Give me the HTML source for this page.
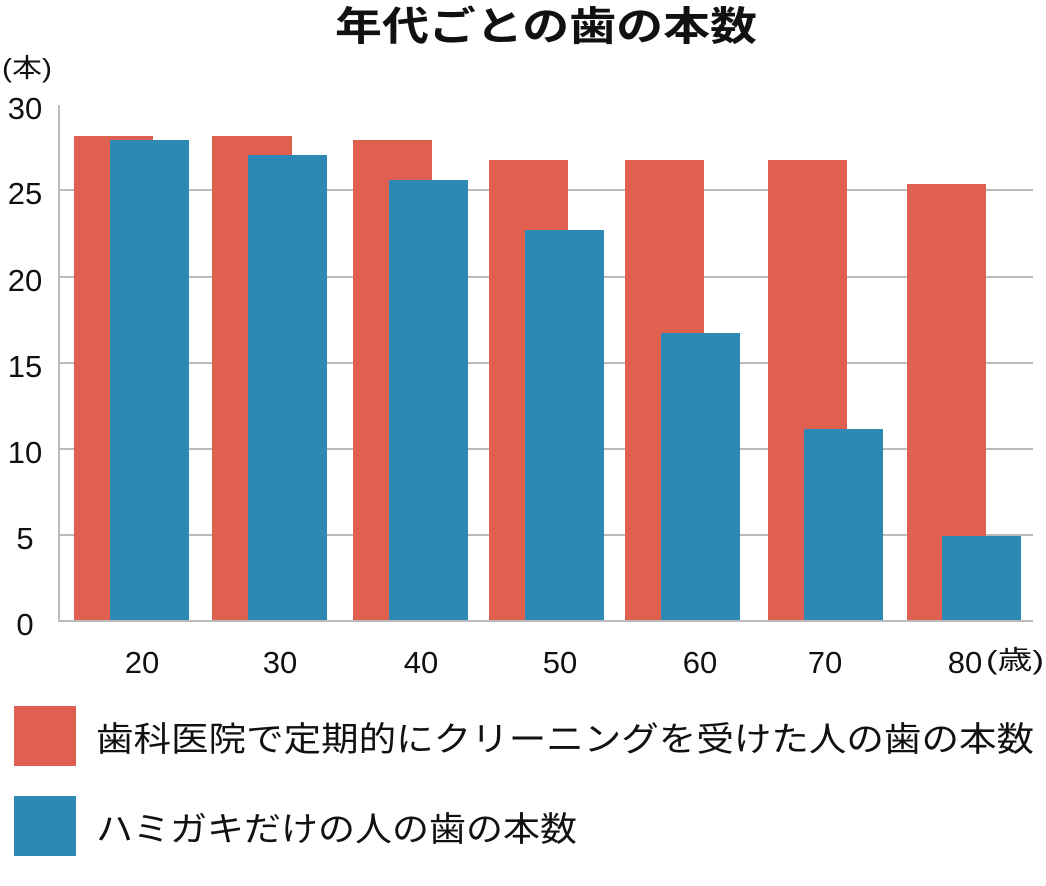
<!DOCTYPE html>
<html><head><meta charset="utf-8"><style>
body{margin:0;background:#fff;}
svg text{font-family:"Liberation Sans","Noto Sans CJK JP",sans-serif;fill:#111;}
</style></head><body>
<svg width="1046" height="881" viewBox="0 0 1046 881" xmlns="http://www.w3.org/2000/svg">
<text x="335" y="40" font-size="40" font-weight="bold" textLength="422" lengthAdjust="spacingAndGlyphs">年代ごとの歯の本数</text>
<text x="2" y="77" font-size="26" textLength="50" lengthAdjust="spacingAndGlyphs">(本)</text>
<g stroke="#bbb" stroke-width="2">
<line x1="59" y1="190" x2="1033" y2="190"/>
<line x1="59" y1="277" x2="1033" y2="277"/>
<line x1="59" y1="363" x2="1033" y2="363"/>
<line x1="59" y1="449" x2="1033" y2="449"/>
<line x1="59" y1="535" x2="1033" y2="535"/>
</g>
<g font-size="31" text-anchor="middle">
<text x="25" y="119">30</text>
<text x="25" y="204">25</text>
<text x="25" y="291">20</text>
<text x="25" y="377">15</text>
<text x="25" y="463">10</text>
<text x="25" y="549">5</text>
<text x="25" y="635">0</text>
</g>
<g fill="#DF6050">
<rect x="74" y="136" width="79" height="485"/>
<rect x="212" y="136" width="80" height="485"/>
<rect x="353" y="140" width="79" height="481"/>
<rect x="489" y="160" width="79" height="461"/>
<rect x="625" y="160" width="79" height="461"/>
<rect x="768" y="160" width="79" height="461"/>
<rect x="907" y="184" width="79" height="437"/>
</g>
<g fill="#2D88B3">
<rect x="110" y="140" width="79" height="481"/>
<rect x="248" y="155" width="79" height="466"/>
<rect x="389" y="180" width="79" height="441"/>
<rect x="525" y="230" width="79" height="391"/>
<rect x="661" y="333" width="79" height="288"/>
<rect x="804" y="429" width="79" height="192"/>
<rect x="942" y="536" width="79" height="85"/>
</g>
<g stroke="#bbb" stroke-width="2">
<line x1="59" y1="105" x2="59" y2="622"/>
<line x1="58" y1="621" x2="1033" y2="621"/>
</g>
<g font-size="31" text-anchor="middle">
<text x="142" y="673">20</text>
<text x="280" y="673">30</text>
<text x="421" y="673">40</text>
<text x="560" y="673">50</text>
<text x="700" y="673">60</text>
<text x="825" y="673">70</text>
<text x="965" y="673">80</text>
</g>
<text x="986" y="669" font-size="26" textLength="58" lengthAdjust="spacingAndGlyphs">(歳)</text>
<rect x="14" y="706" width="62" height="60" fill="#DF6050"/>
<rect x="14" y="796" width="62" height="60" fill="#2D88B3"/>
<text x="96" y="751" font-size="34" textLength="938" lengthAdjust="spacingAndGlyphs">歯科医院で定期的にクリーニングを受けた人の歯の本数</text>
<text x="96" y="841" font-size="34" textLength="481" lengthAdjust="spacingAndGlyphs">ハミガキだけの人の歯の本数</text>
</svg>
</body></html>
